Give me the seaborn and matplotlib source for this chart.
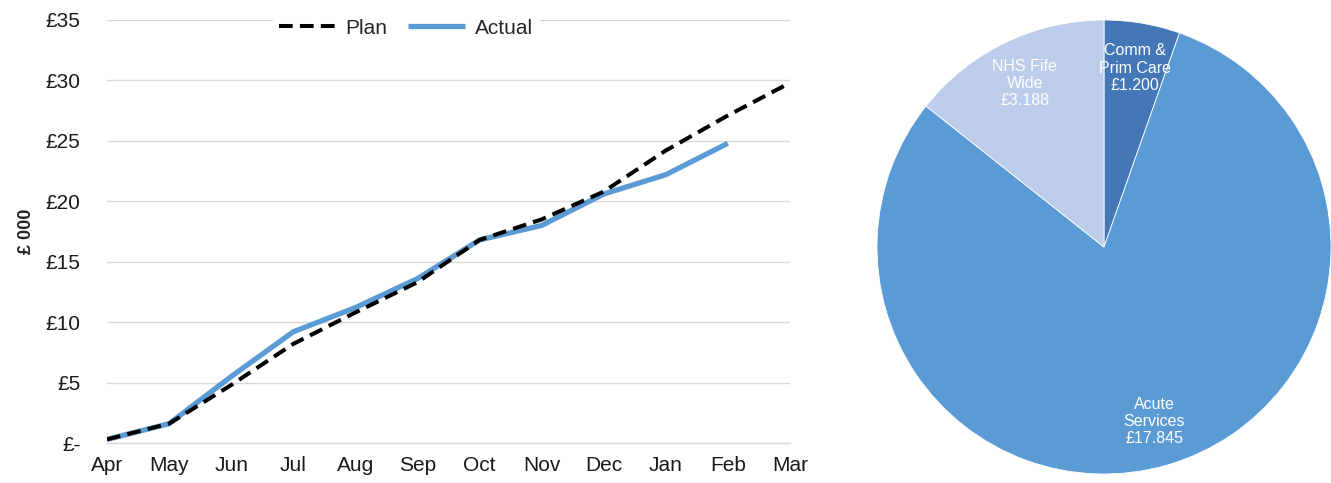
import numpy as np
import pandas as pd
import matplotlib
matplotlib.use("Agg")
import matplotlib.pyplot as plt
import seaborn as sns

# Cumulative spend by month (£000)
months = ["Apr", "May", "Jun", "Jul", "Aug", "Sep", "Oct", "Nov", "Dec", "Jan", "Feb", "Mar"]
plan = [0.3, 1.6, 4.8, 8.2, 10.8, 13.3, 16.8, 18.5, 20.8, 24.2, 27.1, 29.8]
actual = [0.3, 1.6, 5.5, 9.2, 11.2, 13.6, 16.8, 18.0, 20.6, 22.2, 24.8, np.nan]

# Year-to-date spend split by service area (£000)
segments = ["Comm &\nPrim Care", "Acute\nServices", "NHS Fife\nWide"]
segment_values = [1.200, 17.845, 3.188]
segment_colors = ["#4377B8", "#5B9BD5", "#BCCDEB"]

y_ticks = [0, 5, 10, 15, 20, 25, 30, 35]
y_tick_labels = ["£-", "£5", "£10", "£15", "£20", "£25", "£30", "£35"]

sns.set_theme(style="white")
plt.rcParams["font.family"] = ["Liberation Sans", "DejaVu Sans"]

fig = plt.figure(figsize=(13.31, 4.83), dpi=100)
fig.patch.set_facecolor("white")

# ---- cumulative line chart ----
ax = fig.add_axes([0.0804, 0.0828, 0.5131, 0.8758])
df = pd.DataFrame({"idx": np.arange(len(months)), "Plan": plan, "Actual": actual})

sns.lineplot(data=df, x="idx", y="Actual", ax=ax, color="#5B9BD5", linewidth=3.8,
             label="Actual", solid_capstyle="butt", zorder=3)
sns.lineplot(data=df, x="idx", y="Plan", ax=ax, color="black", linewidth=2.9,
             label="Plan", zorder=4)
ax.lines[-1].set_dashes([3.4, 1.8])

ax.set_xlim(0, len(months) - 1)
ax.set_ylim(0, 35)
ax.set_xticks(np.arange(len(months)))
ax.set_xticklabels(months)
ax.set_yticks(y_ticks)
ax.set_yticklabels(y_tick_labels)
ax.tick_params(axis="both", labelsize=15, colors="#1a1a1a", length=0)
ax.tick_params(axis="y", pad=19)
ax.tick_params(axis="x", pad=9)
ax.grid(axis="y", color="#D9D9D9", linewidth=1.0)
ax.set_axisbelow(True)
for side in ["top", "right", "left"]:
    ax.spines[side].set_visible(False)
ax.spines["bottom"].set_color("#D9D9D9")
ax.spines["bottom"].set_linewidth(1.0)
ax.set_xlabel("")
ax.set_ylabel("£ 000", fontsize=13, fontweight="bold", labelpad=8)

handles, labels = ax.get_legend_handles_labels()
order = [labels.index("Plan"), labels.index("Actual")]
leg = ax.legend([handles[i] for i in order], [labels[i] for i in order],
                loc="center", bbox_to_anchor=(0.438, 0.981), ncol=2,
                frameon=True, facecolor="white", edgecolor="white", framealpha=1,
                fontsize=15, handlelength=2.7, handletextpad=0.5,
                columnspacing=1.0, borderpad=0.3)
leg.get_frame().set_linewidth(0)

# ---- service split pie ----
pax = fig.add_axes([0.6589, 0.0186, 0.3411, 0.94])
labels_pie = [f"{s}\n£{v:.3f}" for s, v in zip(segments, segment_values)]
wedges, texts = pax.pie(segment_values, labels=labels_pie, colors=segment_colors,
                        startangle=90, counterclock=False, labeldistance=0.8,
                        wedgeprops=dict(edgecolor="white", linewidth=0.6),
                        textprops=dict(color="white", fontsize=11.5, linespacing=1.2))
for t in texts:
    t.set_horizontalalignment("center")
    t.set_verticalalignment("center")
pax.set_xlim(-1, 1)
pax.set_ylim(-1, 1)
pax.set_aspect("equal")
pax.axis("off")

fig.savefig("out.png", dpi=100, facecolor="white")
